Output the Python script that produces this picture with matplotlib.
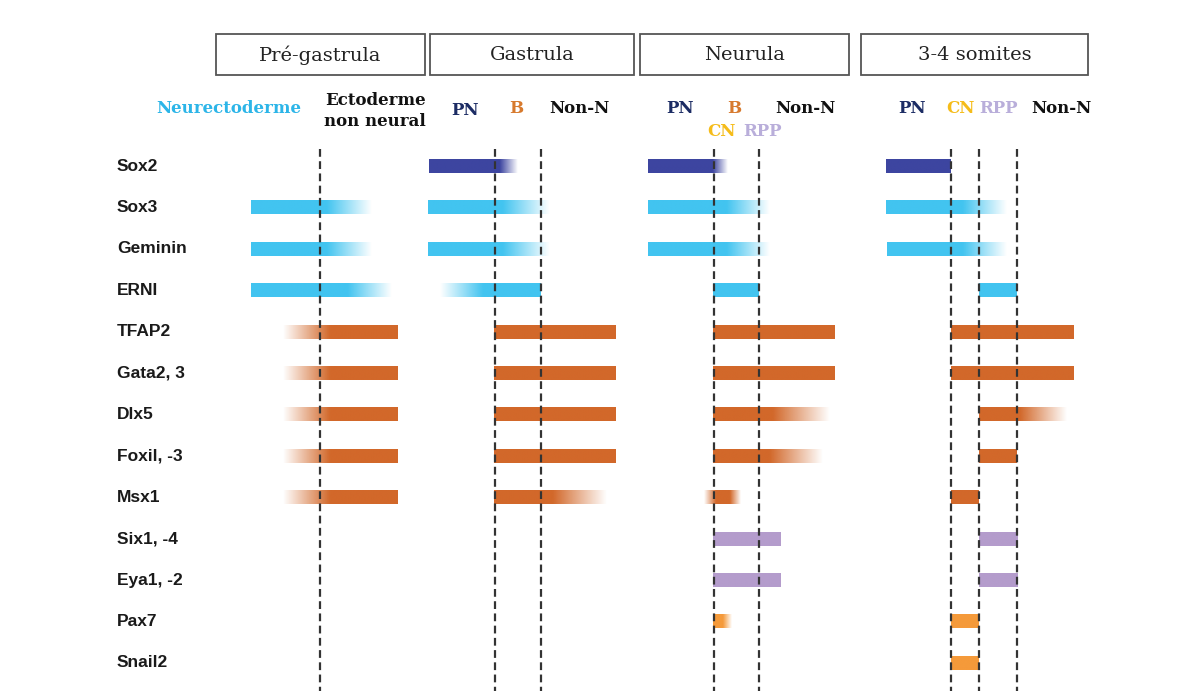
import numpy as np
import matplotlib
matplotlib.use("Agg")
import matplotlib.pyplot as plt
from matplotlib.colors import to_rgb
from matplotlib.patches import Rectangle

# genes (rows) and the stages (header boxes)
genes = ["Sox2", "Sox3", "Geminin", "ERNI", "TFAP2", "Gata2, 3", "Dlx5",
         "Foxil, -3", "Msx1", "Six1, -4", "Eya1, -2", "Pax7", "Snail2"]
stages = ["Pré-gastrula", "Gastrula", "Neurula", "3-4 somites"]

# expression bars: (row, fade start, solid start, solid end, fade end, colour key)
pre_gastrula = [
    (1, 251, 251, 327, 372, "cyan"),
    (2, 251, 251, 327, 372, "cyan"),
    (3, 251, 251, 348, 392, "cyan"),
    (4, 283, 330, 398, 398, "orange"),
    (5, 283, 330, 398, 398, "orange"),
    (6, 283, 330, 398, 398, "orange"),
    (7, 283, 330, 398, 398, "orange"),
    (8, 283, 330, 398, 398, "orange"),
]
gastrula = [
    (0, 429, 429, 500, 518, "indigo"),
    (1, 428, 428, 503, 550, "cyan"),
    (2, 428, 428, 503, 550, "cyan"),
    (3, 440, 483, 541, 541, "cyan"),
    (4, 494, 494, 616, 616, "orange"),
    (5, 494, 494, 616, 616, "orange"),
    (6, 494, 494, 616, 616, "orange"),
    (7, 494, 494, 616, 616, "orange"),
    (8, 494, 494, 553, 607, "orange"),
]
neurula = [
    (0, 648, 648, 713, 728, "indigo"),
    (1, 648, 648, 727, 770, "cyan"),
    (2, 648, 648, 727, 770, "cyan"),
    (3, 713, 713, 759, 759, "cyan"),
    (4, 713, 713, 835, 835, "orange"),
    (5, 713, 713, 835, 835, "orange"),
    (6, 713, 713, 773, 830, "orange"),
    (7, 713, 713, 770, 823, "orange"),
    (8, 704, 716, 730, 741, "orange"),
    (9, 713, 713, 781, 781, "lavender"),
    (10, 713, 713, 781, 781, "lavender"),
    (11, 713, 713, 723, 732, "lightorange"),
]
somites = [
    (0, 886, 886, 951, 951, "indigo"),
    (1, 886, 886, 963, 1007, "cyan"),
    (2, 887, 887, 963, 1007, "cyan"),
    (3, 979, 979, 1017, 1017, "cyan"),
    (4, 951, 951, 1074, 1074, "orange"),
    (5, 951, 951, 1074, 1074, "orange"),
    (6, 979, 979, 1020, 1067, "orange"),
    (7, 979, 979, 1017, 1017, "orange"),
    (8, 951, 951, 979, 979, "orange"),
    (9, 979, 979, 1018, 1018, "lavender"),
    (10, 979, 979, 1018, 1018, "lavender"),
    (11, 951, 951, 979, 979, "lightorange"),
    (12, 951, 951, 979, 979, "lightorange"),
]

# territory boundaries (dashed lines)
boundaries = [320, 495, 541, 714, 759, 951, 979, 1017]

colors = {
    "indigo": "#3d45a0",
    "cyan": "#42c4f0",
    "orange": "#d2682a",
    "lavender": "#b49ccc",
    "lightorange": "#f59a3a",
}

fig = plt.figure(figsize=(11.9, 6.91), dpi=100)
ax = fig.add_axes([0, 0, 1, 1])

def row_y(i):
    return 166 + 41.4 * i

# stage boxes
box_left = [216, 430, 640, 861]
box_right = [425, 634, 849, 1088]
for name, l, r in zip(stages, box_left, box_right):
    ax.add_patch(Rectangle((l, 34), r - l, 41, fill=False, ec="#555555", lw=1.3))
    ax.text((l + r) / 2, 55, name, ha="center", va="center", fontsize=14,
            family="DejaVu Serif", color="#222222")

# territory labels
sub = [
    ("Neurectoderme", 229, 108, "#2cb5e8"),
    ("Ectoderme", 375, 100, "#111111"),
    ("non neural", 375, 121, "#111111"),
    ("PN", 465, 110, "#1c2c64"),
    ("B", 516, 108, "#d77a2e"),
    ("Non-N", 579, 108, "#111111"),
    ("PN", 680, 108, "#1c2c64"),
    ("B", 734, 108, "#d77a2e"),
    ("Non-N", 805, 108, "#111111"),
    ("CN", 721, 131, "#f5bc1a"),
    ("RPP", 762, 131, "#b9aeda"),
    ("PN", 912, 108, "#1c2c64"),
    ("CN", 960, 108, "#f5bc1a"),
    ("RPP", 998, 108, "#b9aeda"),
    ("Non-N", 1061, 108, "#111111"),
]
for txt, x, y, c in sub:
    ax.text(x, y, txt, ha="center", va="center", fontsize=12, fontweight="bold",
            family="DejaVu Serif", color=c)

# gene names
for i, g in enumerate(genes):
    ax.text(117, row_y(i), g, ha="left", va="center", fontsize=12.5,
            fontweight="bold", family="Liberation Sans", color="#1a1a1a")

# dashed boundaries
for x in boundaries:
    ax.plot([x, x], [149, 691], color="#333333", lw=1.6, ls=(0, (3.5, 2)), zorder=3)

# bars with faded ends
h = 14
for bars in [pre_gastrula, gastrula, neurula, somites]:
    for row, x0, a, b, x1, key in bars:
        xs = np.linspace(x0, x1, 300)
        alpha = np.ones_like(xs)
        if a > x0:
            alpha = np.minimum(alpha, (xs - x0) / (a - x0))
        if x1 > b:
            alpha = np.minimum(alpha, (x1 - xs) / (x1 - b))
        alpha = np.clip(alpha, 0, 1)
        img = np.zeros((1, len(xs), 4))
        img[..., :3] = to_rgb(colors[key])
        img[..., 3] = alpha
        y = row_y(row)
        ax.imshow(img, extent=(x0, x1, y + h / 2, y - h / 2), aspect="auto",
                  interpolation="bilinear", zorder=2)

ax.set_xlim(0, 1190)
ax.set_ylim(691, 0)
ax.axis("off")

fig.savefig("out.png", dpi=100, facecolor="white")
